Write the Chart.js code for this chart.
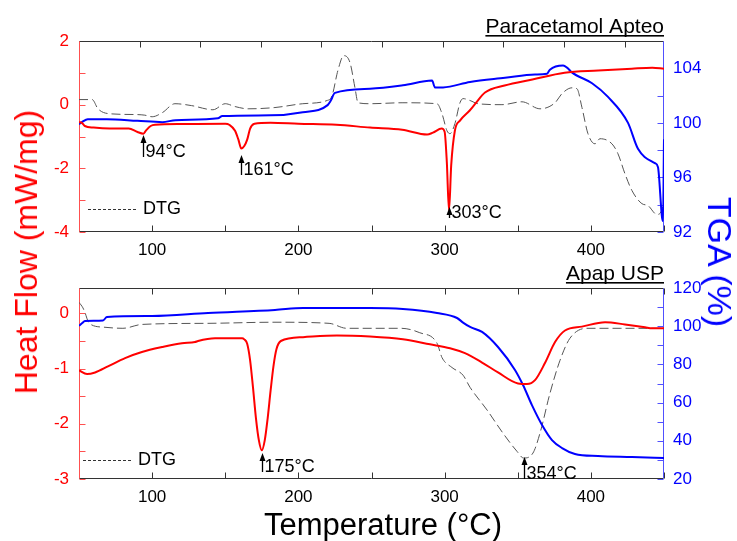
<!DOCTYPE html>
<html>
<head>
<meta charset="utf-8">
<script src="https://cdn.jsdelivr.net/npm/chart.js@4.4.1/dist/chart.umd.min.js"></script>
<style>
  body { margin: 0; background: #fff; }
  #wrap { position: relative; width: 737px; height: 541px; overflow: hidden; font-family: 'Liberation Sans', Arial, sans-serif; }
  canvas { position: absolute; left: 0; }
  .axis-title { position: absolute; white-space: nowrap; line-height: 1; font-size: 31px; transform: translate(-50%, -50%); }
</style>
</head>
<body>
<div id="wrap">
  <canvas id="apteo" width="737" height="265" style="top:0"></canvas>
  <canvas id="usp" width="737" height="276" style="top:265px"></canvas>
  <div class="axis-title" style="left:26px; top:252px; color:#f00; font-size:32px; transform: translate(-50%,-50%) rotate(-90deg);">Heat Flow (mW/mg)</div>
  <div class="axis-title" style="left:720px; top:262px; color:#00f; font-size:34px; transform: translate(-50%,-50%) rotate(90deg);">TGA (%)</div>
  <div class="axis-title" style="left:383px; top:524px;">Temperature (°C)</div>
</div>
<script>
// Paracetamol Apteo: DSC heat flow, TGA mass and DTG
const apteoHeatT = [50, 52, 54, 60, 71, 84, 90, 94, 96, 99, 102, 120, 150, 153, 156.7, 159, 161, 163, 165, 167, 170, 181, 200, 226, 249, 271, 288, 292, 298, 300, 301.5, 303, 304.5, 307, 310.5, 317, 321, 327.6, 341, 360, 382, 405, 428, 442, 450];
const apteoHeat  = [-0.55, -0.57, -0.67, -0.72, -0.75, -0.75, -0.86, -0.91, -0.8, -0.67, -0.63, -0.61, -0.6, -0.64, -0.82, -1.1, -1.38, -1.3, -1.1, -0.75, -0.6, -0.57, -0.6, -0.63, -0.72, -0.79, -0.94, -0.88, -0.75, -0.85, -1.8, -3.33, -1.9, -0.82, -0.5, -0.19, 0.03, 0.38, 0.6, 0.79, 1.0, 1.07, 1.13, 1.16, 1.13];

const apteoMassT = [50, 52, 56, 69, 90, 107, 116, 145, 148, 181, 203, 220, 222, 225, 249, 271.5, 291.4, 293.4, 298.9, 317.4, 341.3, 361.8, 370, 372, 381, 383.7, 387, 400.8, 411.7, 425.4, 432.2, 443.8, 445.9, 448.6, 449.3, 450];
const apteoMass  = [99.9, 100.05, 100.27, 100.27, 100.15, 100.05, 100.2, 100.34, 100.5, 100.55, 100.78, 101.3, 101.6, 102.2, 102.5, 102.75, 103.1, 102.6, 102.6, 103.0, 103.3, 103.55, 103.6, 103.9, 104.2, 104.05, 103.7, 102.9, 101.9, 100, 98.1, 97.05, 96.75, 93.1, 92.8, 98.8];

const apteoDtgT = [50, 59, 63, 70, 88, 95, 100, 107, 115.6, 127, 141.6, 150, 156.7, 165.6, 184, 203, 219.6, 223, 227, 231, 235.3, 238.7, 240.8, 249, 271.5, 294.8, 298.2, 301.6, 303.7, 307, 310.5, 312.6, 317.4, 322.8, 339.2, 352.9, 365.2, 375.5, 380.3, 387.1, 390.5, 393.9, 398, 402.8, 406.2, 414.4, 418.5, 423.3, 428.1, 434.9, 439, 445.2, 448.6, 450];
const apteoDtg  = [0.16, 0.16, -0.13, -0.28, -0.31, -0.33, -0.38, -0.25, 0.03, -0.03, -0.16, 0.03, -0.06, -0.13, -0.09, 0.03, 0.13, 0.28, 1.07, 1.54, 1.32, 0.53, 0.06, 0.03, 0.06, 0.03, -0.28, -0.82, -0.91, -0.6, 0.06, 0.19, 0.13, 0.03, 0, 0.09, -0.13, 0.06, 0.35, 0.53, 0.5, -0.09, -0.91, -1.23, -1.07, -1.23, -1.54, -2.17, -2.7, -3.11, -3.17, -3.45, -3.3, -3.0];

// Apap USP
const uspHeatT = [50, 55.5, 61, 69.8, 81.5, 93, 106.8, 120.4, 129.3, 131.4, 143, 154.6, 161.5, 163, 165, 167, 169, 171, 173, 175, 177, 179, 181, 183, 185, 188, 203.2, 226.4, 249, 271.5, 290, 303.7, 313.9, 325.6, 336.5, 350.2, 356.3, 361.8, 368.6, 375.5, 382.3, 393.9, 409.7, 423.3, 437, 441.8, 450];
const uspHeat  = [-1.03, -1.1, -1.07, -0.96, -0.81, -0.7, -0.61, -0.54, -0.52, -0.5, -0.45, -0.45, -0.45, -0.47, -0.55, -0.85, -1.35, -1.9, -2.3, -2.48, -2.3, -1.9, -1.4, -0.95, -0.65, -0.5, -0.43, -0.4, -0.42, -0.47, -0.56, -0.63, -0.72, -0.89, -1.07, -1.27, -1.28, -1.21, -0.9, -0.52, -0.31, -0.24, -0.16, -0.2, -0.25, -0.27, -0.27];

const uspMassT = [50, 52, 54.1, 66.4, 69.1, 100, 138.2, 184, 203.2, 249, 271.5, 294.8, 308.5, 312.6, 317.4, 325.6, 336.5, 348.1, 353.6, 359.7, 366.6, 373.4, 380.3, 389.1, 404.9, 428.1, 450];
const uspMass  = [100.2, 101.5, 102.7, 103.0, 104.8, 105.3, 106.9, 108.5, 109.5, 109.5, 109, 106.9, 104.3, 101.9, 99.6, 97, 89.1, 77.1, 69.2, 58.7, 48.3, 40.4, 36.2, 33.1, 32, 31.5, 31];

const uspDtgT = [50, 52.7, 54, 57, 67, 80, 93, 138, 184, 221, 233, 270, 283, 294.8, 298.2, 305, 312.6, 317.4, 329, 339.9, 349.5, 354, 360.4, 365.2, 372, 378.9, 385.7, 397.3, 420, 450];
const uspDtg  = [0.2, 0.1, 0.02, -0.18, -0.25, -0.27, -0.2, -0.18, -0.16, -0.18, -0.27, -0.27, -0.35, -0.54, -0.8, -0.98, -1.12, -1.34, -1.75, -2.17, -2.5, -2.62, -2.53, -2.17, -1.45, -0.85, -0.45, -0.27, -0.27, -0.27];

// peak temperatures marked with arrows
const apteoPeakT = [94, 161, 303];
const uspPeakT = [175, 354];

// labelled temperatures on the x axis
const tempTicks = [100, 200, 300, 400];

const FONT = "'Liberation Sans', Arial, sans-serif";

const pts = (xs, ys) => xs.map((x, i) => ({ x: x, y: ys[i] }));

function stepsIn(scale, step) {
  const out = [];
  for (let v = Math.ceil(scale.min / step - 1e-9) * step; v <= scale.max + 1e-9; v += step) out.push(v);
  return out;
}

function seg(ctx, x1, y1, x2, y2, color) {
  ctx.strokeStyle = color;
  ctx.beginPath();
  ctx.moveTo(x1, y1);
  ctx.lineTo(x2, y2);
  ctx.stroke();
}

// box around the plot with inward tick marks, drawn under the curves
const frame = {
  id: 'frame',
  beforeDatasetsDraw(chart, args, o) {
    const { ctx, chartArea: a, scales } = chart;
    const L = Math.round(a.left) + 0.5, R = Math.round(a.right) - 0.5;
    const T = Math.round(a.top) + 0.5, B = Math.round(a.bottom) - 0.5;
    const len = 6;
    ctx.save();
    ctx.lineWidth = 1;
    stepsIn(scales.x, 50).forEach(v => {
      const px = Math.round(scales.x.getPixelForValue(v)) + 0.5;
      seg(ctx, px, B, px, B - len, '#333');
    });
    const top = scales[o.topScale];
    stepsIn(top, o.topStep).forEach(v => {
      const px = Math.round(top.getPixelForValue(v)) + 0.5;
      seg(ctx, px, T, px, T + len, '#333');
    });
    stepsIn(scales.y, o.yStep).forEach(v => {
      const py = Math.round(scales.y.getPixelForValue(v)) + 0.5;
      seg(ctx, L, py, L + len, py, '#ff5050');
    });
    stepsIn(scales.y1, o.y1Step).forEach(v => {
      const py = Math.round(scales.y1.getPixelForValue(v)) + 0.5;
      seg(ctx, R, py, R - len, py, '#5050ff');
    });
    seg(ctx, L, T, R, T, '#333');
    seg(ctx, L, B, R, B, '#333');
    seg(ctx, L, T, L, B, '#ff5050');
    seg(ctx, R, T, R, B, '#5050ff');
    ctx.restore();
  },
  afterDatasetsDraw(chart, args, o) {
    const { ctx, chartArea: a, scales } = chart;
    ctx.save();
    ctx.fillStyle = '#000';
    ctx.strokeStyle = '#000';

    // sample title, underlined
    ctx.font = '21px ' + FONT;
    ctx.textAlign = 'right';
    ctx.textBaseline = 'alphabetic';
    ctx.fillText(o.title, a.right, a.top - 8);
    const w = ctx.measureText(o.title).width;
    ctx.fillRect(a.right - w, a.top - 6, w, 1.6);

    // peak arrows
    ctx.font = '18px ' + FONT;
    ctx.textAlign = 'left';
    ctx.textBaseline = 'middle';
    o.notes.forEach(n => {
      const px = Math.round(scales.x.getPixelForValue(n.t)) + 0.5;
      const tip = a.top + n.tip, base = a.top + n.base;
      ctx.lineWidth = 1.3;
      ctx.beginPath();
      ctx.moveTo(px, base);
      ctx.lineTo(px, tip + 4);
      ctx.stroke();
      ctx.beginPath();
      ctx.moveTo(px, tip);
      ctx.lineTo(px - 3, tip + 8);
      ctx.lineTo(px + 3, tip + 8);
      ctx.closePath();
      ctx.fill();
      ctx.fillText(n.t + '°C', px + 2, base - 5);
    });

    // DTG key
    const ky = Math.round(a.bottom - o.key.dy) + 0.5;
    ctx.lineWidth = 1;
    ctx.setLineDash([3, 2]);
    seg(ctx, a.left + o.key.dx, ky, a.left + o.key.dx + 49, ky, '#333');
    ctx.setLineDash([]);
    ctx.font = '18px ' + FONT;
    ctx.fillText('DTG', a.left + o.key.dx + 55, ky);
    ctx.restore();
  }
};

function datasets(heat, mass, dtg) {
  return [
    { data: heat, borderColor: '#ff0000', borderWidth: 2, yAxisID: 'y' },
    { data: mass, borderColor: '#0000ff', borderWidth: 2, yAxisID: 'y1' },
    { data: dtg, borderColor: '#555', borderWidth: 1, borderDash: [9, 4], yAxisID: 'y' }
  ];
}

function tickFont() { return { family: FONT, size: 17 }; }

function panel(id, cfg) {
  const scales = {
    x: {
      type: 'linear', min: 50, max: 450, position: 'bottom',
      grid: { display: false, drawTicks: false }, border: { display: false },
      ticks: { color: '#000', font: tickFont(), padding: 8, maxRotation: 0, autoSkip: false },
      afterBuildTicks: s => { s.ticks = tempTicks.map(v => ({ value: v })); },
      afterFit: s => { s.height = cfg.xHeight; }
    },
    y: {
      min: cfg.yMin, max: cfg.yMax, position: 'left',
      grid: { display: false, drawTicks: false }, border: { display: false },
      ticks: { stepSize: cfg.yLabelStep, includeBounds: false, color: '#ff0000', font: tickFont(), padding: 10 },
      afterFit: s => { s.width = 79; }
    },
    y1: {
      min: cfg.y1Min, max: cfg.y1Max, position: 'right',
      grid: { display: false, drawTicks: false }, border: { display: false },
      ticks: { stepSize: cfg.y1LabelStep, includeBounds: false, color: '#0000ff', font: tickFont(), padding: 9 },
      afterFit: s => { s.width = 73; }
    }
  };
  if (cfg.topAxis) {
    scales.x2 = { type: 'linear', display: false, position: 'top', min: 0, max: 9.65 };
  }
  new Chart(document.getElementById(id), {
    type: 'line',
    data: { datasets: cfg.datasets },
    options: {
      responsive: false,
      animation: false,
      devicePixelRatio: 1,
      elements: { point: { radius: 0 }, line: { cubicInterpolationMode: 'monotone' } },
      layout: { padding: { top: cfg.padTop, left: 0, right: 0, bottom: 0 } },
      scales: scales,
      plugins: {
        legend: { display: false },
        tooltip: { enabled: false },
        frame: cfg.frame
      }
    },
    plugins: [frame]
  });
}

panel('apteo', {
  datasets: datasets(pts(apteoHeatT, apteoHeat), pts(apteoMassT, apteoMass), pts(apteoDtgT, apteoDtg)),
  padTop: 41, xHeight: 33,
  yMin: -4, yMax: 2, yLabelStep: 2,
  y1Min: 92, y1Max: 106, y1LabelStep: 4,
  topAxis: true,
  frame: {
    title: 'Paracetamol Apteo',
    topScale: 'x2', topStep: 1, yStep: 1, y1Step: 2,
    notes: [
      { t: apteoPeakT[0], tip: 94, base: 116 },
      { t: apteoPeakT[1], tip: 114, base: 134 },
      { t: apteoPeakT[2], tip: 166, base: 177 }
    ],
    key: { dx: 9, dy: 23 }
  }
});

panel('usp', {
  datasets: datasets(pts(uspHeatT, uspHeat), pts(uspMassT, uspMass), pts(uspDtgT, uspDtg)),
  padTop: 23, xHeight: 62,
  yMin: -3, yMax: 0.46, yLabelStep: 1,
  y1Min: 20, y1Max: 120, y1LabelStep: 20,
  topAxis: false,
  frame: {
    title: 'Apap USP',
    topScale: 'x', topStep: 50, yStep: 0.5, y1Step: 10,
    notes: [
      { t: uspPeakT[0], tip: 165, base: 184 },
      { t: uspPeakT[1], tip: 169, base: 191 }
    ],
    key: { dx: 4, dy: 19 }
  }
});
</script>
</body>
</html>
